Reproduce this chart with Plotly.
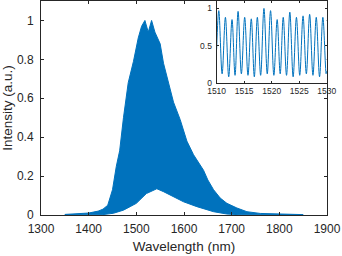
import plotly.graph_objects as go

# Main spectrum: envelopes of the dense interference fringes
env_wl = [1350, 1380, 1400, 1420, 1430, 1440, 1450, 1458, 1465, 1473, 1483, 1494,
          1504, 1511, 1518, 1525, 1532, 1539, 1550, 1557, 1567, 1578, 1592, 1606,
          1620, 1634, 1641, 1650, 1662, 1676, 1690, 1711, 1732, 1760, 1790, 1820, 1850]
upper = [0.003, 0.005, 0.01, 0.02, 0.03, 0.05, 0.13, 0.25, 0.33, 0.5, 0.68, 0.79,
         0.91, 0.97, 1.0, 0.94, 1.0, 0.94, 0.88, 0.78, 0.69, 0.58, 0.49, 0.38,
         0.31, 0.26, 0.23, 0.18, 0.13, 0.087, 0.06, 0.036, 0.017, 0.008, 0.005, 0.003, 0.002]

low_wl = [1350, 1430, 1452, 1473, 1487, 1500, 1521, 1543, 1557, 1578, 1599, 1627,
          1662, 1690, 1720, 1850]
lower = [0.0, 0.002, 0.009, 0.025, 0.043, 0.06, 0.11, 0.135, 0.12, 0.094, 0.068,
         0.043, 0.017, 0.005, 0.001, 0.0]

# Inset: fringe extrema between 1510 and 1530 nm
ins_wl = [1510.0, 1510.4, 1511.0, 1511.6, 1512.2, 1512.8, 1513.35, 1513.9, 1514.5,
          1515.1, 1515.7, 1516.3, 1516.85, 1517.4, 1518.0, 1518.6, 1519.2, 1519.8,
          1520.4, 1521.0, 1521.55, 1522.1, 1522.7, 1523.3, 1523.9, 1524.5, 1525.1,
          1525.7, 1526.3, 1526.9, 1527.5, 1528.1, 1528.7, 1529.3, 1529.9, 1530.0]
ins_val = [0.45, 0.97, 0.12, 0.88, 0.08, 0.85, 0.1, 0.96, 0.12, 0.88, 0.1, 0.86,
           0.08, 0.88, 0.1, 1.0, 0.12, 0.97, 0.1, 0.85, 0.12, 0.88, 0.1, 0.95,
           0.08, 0.88, 0.1, 0.9, 0.12, 0.92, 0.1, 0.88, 0.08, 0.88, 0.12, 0.16]

x_ticks = [1300, 1400, 1500, 1600, 1700, 1800, 1900]
y_ticks = [0, 0.2, 0.4, 0.6, 0.8, 1]
y_labels = ["0", "0.2", "0.4", "0.6", "0.8", "1"]
ins_x_ticks = [1510, 1515, 1520, 1525, 1530]
ins_y_ticks = [0, 0.5, 1]
ins_y_labels = ["0", "0.5", "1"]

BLUE = "#0072BD"
AX = "#262626"
FONT = "Liberation Sans, Arial, sans-serif"

fig = go.Figure()
fig.add_trace(go.Scatter(x=low_wl, y=lower, mode="lines",
                         line=dict(color=BLUE, width=1), showlegend=False,
                         xaxis="x", yaxis="y"))
fig.add_trace(go.Scatter(x=env_wl, y=upper, mode="lines", fill="tonexty",
                         fillcolor=BLUE, line=dict(color=BLUE, width=1),
                         showlegend=False, xaxis="x", yaxis="y"))
fig.add_trace(go.Scatter(x=ins_wl, y=ins_val, mode="lines",
                         line=dict(color=BLUE, width=1, shape="spline", smoothing=1.0),
                         showlegend=False, xaxis="x2", yaxis="y2"))

common = dict(showgrid=False, zeroline=False, showline=True, linecolor=AX,
              linewidth=1, mirror="ticks", ticks="inside", tickcolor=AX,
              automargin=False)

fig.update_layout(
    width=342, height=256,
    margin=dict(l=41, r=15, t=1, b=41),
    paper_bgcolor="white", plot_bgcolor="white",
    font=dict(family=FONT, color=AX, size=12),
    xaxis=dict(domain=[0, 1], range=[1300, 1900], tickvals=x_ticks, ticklen=3,
               ticklabelstandoff=3,
               title=dict(text="Wavelength (nm)", font=dict(size=13.5), standoff=6),
               tickfont=dict(size=12), anchor="y", **common),
    yaxis=dict(domain=[0, 1], range=[0, 1.1], tickvals=y_ticks, ticktext=y_labels,
               ticklen=3, ticklabelstandoff=4,
               title=dict(text="Intensity (a.u.)", font=dict(size=13.5), standoff=2),
               tickfont=dict(size=12), anchor="x", **common),
    xaxis2=dict(domain=[0.614, 0.999], range=[1510, 1530], tickvals=ins_x_ticks,
                ticklen=2, tickfont=dict(size=8.5), anchor="y2", **common),
    yaxis2=dict(domain=[0.618, 1.0], range=[0, 1.1], tickvals=ins_y_ticks,
                ticktext=ins_y_labels, ticklen=2, ticklabelstandoff=2,
                tickfont=dict(size=8.5), anchor="x2", **common),
    shapes=[dict(type="rect", xref="x2 domain", yref="y2 domain", x0=0, x1=1,
                 y0=0, y1=1, fillcolor="white", line=dict(width=0), layer="below")],
)

fig.write_html("out.html", config={"displayModeBar": False},
               post_script="document.body.style.margin='0';document.body.style.overflow='hidden';")
